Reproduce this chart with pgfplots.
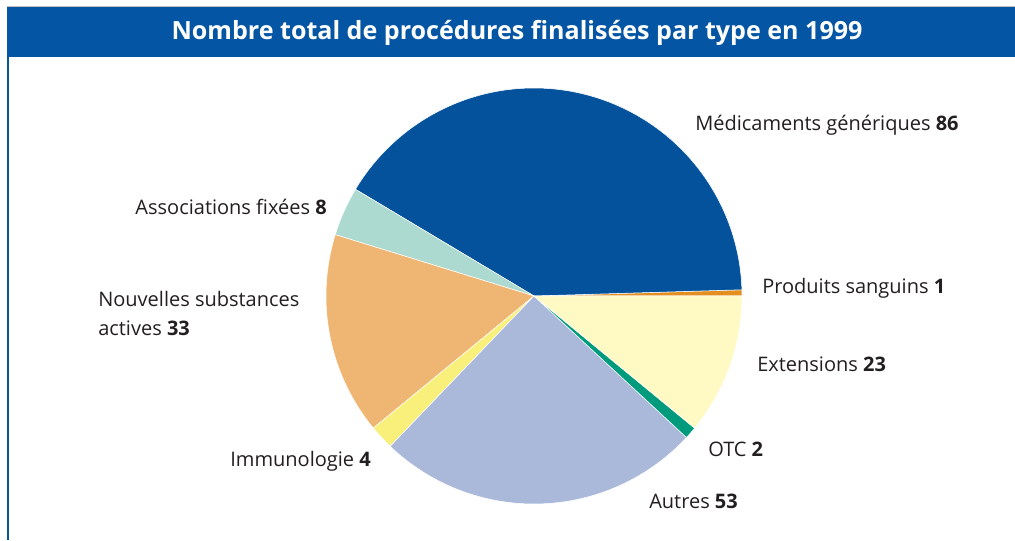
\documentclass[border=0pt]{standalone}
\usepackage{pgfplots}
\pgfplotsset{compat=1.18}
\usepackage{fontspec}
\setmainfont{Open Sans}
\definecolor{titleblue}{HTML}{0455A4}
\definecolor{cMed}{HTML}{04529C}
\definecolor{cPS}{HTML}{E38E1E}
\definecolor{cExt}{HTML}{FFF9C4}
\definecolor{cOTC}{HTML}{009B7C}
\definecolor{cAut}{HTML}{AAB8DA}
\definecolor{cImm}{HTML}{F8F07A}
\definecolor{cNSA}{HTML}{EFB572}
\definecolor{cAss}{HTML}{ADDAD0}
\definecolor{txt}{HTML}{231F20}
% data (counterclockwise from 0 degrees)
\def\vPS{1}\def\vMed{86}\def\vAss{8}\def\vNSA{33}\def\vImm{4}\def\vAut{53}\def\vOTC{2}\def\vExt{23}
\pgfmathsetmacro{\tot}{\vPS+\vMed+\vAss+\vNSA+\vImm+\vAut+\vOTC+\vExt}
\pgfmathsetmacro{\aA}{0}
\pgfmathsetmacro{\aB}{\aA+360*(\vPS/\tot)}
\pgfmathsetmacro{\aC}{\aB+360*(\vMed/\tot)}
\pgfmathsetmacro{\aD}{\aC+360*(\vAss/\tot)}
\pgfmathsetmacro{\aE}{\aD+360*(\vNSA/\tot)}
\pgfmathsetmacro{\aF}{\aE+360*(\vImm/\tot)}
\pgfmathsetmacro{\aG}{\aF+360*(\vAut/\tot)}
\pgfmathsetmacro{\aH}{\aG+360*(\vOTC/\tot)}
\pgfmathsetmacro{\aI}{360}
\begin{document}
\begin{tikzpicture}[x=0.75pt,y=0.75pt]
\path[use as bounding box, fill=white] (0,0) rectangle (1015,540);
\draw[black!25, line width=0.75pt] (7,533) -- (1015,533);
\fill[titleblue] (7,483) rectangle (1015,533);
\draw[titleblue, line width=1.5pt] (8,0) -- (8,483);
\node[white, font=\fontsize{18.8}{20}\selectfont\bfseries] at (517,507) {Nombre total de procédures finalisées par type en 1999};
\begin{axis}[at={(244.5pt,27pt)}, anchor=south west, scale only axis,
  width=312pt, height=312pt, xmin=-1, xmax=1, ymin=-1, ymax=1,
  hide axis, clip=false]
\addplot[fill=cPS, draw=white, line width=0.4pt, domain=\aA:\aB, samples=5] ({cos(x)},{sin(x)}) -- (axis cs:0,0) -- cycle;
\addplot[fill=cMed, draw=white, line width=0.4pt, domain=\aB:\aC, samples=150] ({cos(x)},{sin(x)}) -- (axis cs:0,0) -- cycle;
\addplot[fill=cAss, draw=white, line width=0.4pt, domain=\aC:\aD, samples=20] ({cos(x)},{sin(x)}) -- (axis cs:0,0) -- cycle;
\addplot[fill=cNSA, draw=white, line width=0.4pt, domain=\aD:\aE, samples=60] ({cos(x)},{sin(x)}) -- (axis cs:0,0) -- cycle;
\addplot[fill=cImm, draw=white, line width=0.4pt, domain=\aE:\aF, samples=10] ({cos(x)},{sin(x)}) -- (axis cs:0,0) -- cycle;
\addplot[fill=cAut, draw=white, line width=0.4pt, domain=\aF:\aG, samples=100] ({cos(x)},{sin(x)}) -- (axis cs:0,0) -- cycle;
\addplot[fill=cOTC, draw=white, line width=0.4pt, domain=\aG:\aH, samples=6] ({cos(x)},{sin(x)}) -- (axis cs:0,0) -- cycle;
\addplot[fill=cExt, draw=white, line width=0.4pt, domain=\aH:\aI, samples=70] ({cos(x)},{sin(x)}) -- (axis cs:0,0) -- cycle;
\end{axis}
\begin{scope}[every node/.style={text=txt, font=\fontsize{15}{18}\selectfont, inner sep=0pt}]
\node[anchor=west] at (695,415) {Médicaments génériques \textbf{86}};
\node[anchor=west] at (762,252) {Produits sanguins \textbf{1}};
\node[anchor=west] at (757,176) {Extensions \textbf{23}};
\node[anchor=west] at (708,91) {OTC \textbf{2}};
\node[anchor=west] at (649,39) {Autres \textbf{53}};
\node[anchor=east] at (371,79) {Immunologie \textbf{4}};
\node[anchor=east] at (327,333) {Associations fixées \textbf{8}};
\node[anchor=west] at (98,241) {Nouvelles substances};
\node[anchor=west] at (98,212) {actives \textbf{33}};
\end{scope}
\end{tikzpicture}
\end{document}
